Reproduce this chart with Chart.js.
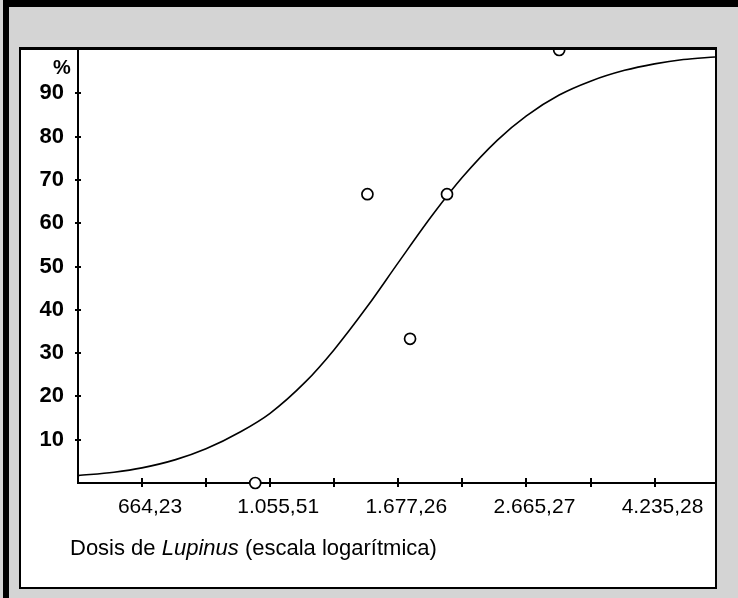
<!DOCTYPE html>
<html>
<head>
<meta charset="utf-8">
<script src="https://cdn.jsdelivr.net/npm/chart.js@4.4.1/dist/chart.umd.min.js"></script>
<style>
  html, body { margin: 0; padding: 0; }
  body { width: 738px; height: 598px; background: #d4d4d4; position: relative; overflow: hidden; font-family: "Liberation Sans", Arial, sans-serif; }
  #frame { position: absolute; left: 3px; top: 0; width: 735px; height: 598px; border-left: 6px solid #000; border-top: 7px solid #000; box-sizing: border-box; }
  #panel { position: absolute; left: 19px; top: 47px; width: 694px; height: 537px; border: 2px solid #000; border-top-width: 3px; background: #fff; }
  #chartBox { position: absolute; left: 0; top: 0; width: 694px; height: 536px; }
  #pct { position: absolute; left: 32px; top: 6px; font-weight: bold; font-size: 20px; color: #000; }
  #caption { position: absolute; left: 49px; top: 487px; font-size: 22px; line-height: 22px; color: #000; white-space: nowrap; }
</style>
</head>
<body>
<div id="frame"></div>
<div id="panel">
  <div id="chartBox"><canvas id="doseChart" width="694" height="536"></canvas></div>
  <div id="pct">%</div>
  <div id="caption">Dosis de <i>Lupinus</i> (escala logarítmica)</div>
</div>
<script>
// observed responses
const obsDose = [1000, 1500, 1750, 2000, 3000];
const obsPct = [0, 66.7, 33.3, 66.7, 100];

// fitted curve
const curveDose = [527, 600, 664, 750, 837, 950, 1055, 1200, 1330, 1500, 1677, 1900, 2114, 2400, 2665, 3000, 3360, 3800, 4235, 4700, 5269];
const curvePct = [1.7, 2.5, 3.5, 5.4, 7.9, 11.9, 16.1, 23.4, 30.8, 40.8, 50.9, 62.0, 70.6, 79.2, 84.8, 89.6, 92.8, 95.3, 96.8, 97.8, 98.4];

// axes
const xMin = 526.93;
const xMax = 5269.3;
const xTickValues = [664.23, 837.31, 1055.51, 1330.56, 1677.26, 2114.32, 2665.27, 3359.8, 4235.28];
const xTickLabels = ['664,23', '', '1.055,51', '', '1.677,26', '', '2.665,27', '', '4.235,28'];
const yTickValues = [10, 20, 30, 40, 50, 60, 70, 80, 90];

// tick marks that cross the axis line
const crossTicks = {
  id: 'crossTicks',
  beforeDatasetsDraw(chart) {
    const c = chart.ctx;
    const xs = chart.scales.x, ys = chart.scales.y;
    c.save();
    c.strokeStyle = '#000';
    c.lineWidth = 2;
    c.beginPath();
    xTickValues.forEach(v => {
      const px = Math.round(xs.getPixelForValue(v));
      c.moveTo(px, ys.bottom - 5);
      c.lineTo(px, ys.bottom + 4);
    });
    yTickValues.forEach(v => {
      const py = Math.round(ys.getPixelForValue(v));
      c.moveTo(xs.left - 3, py);
      c.lineTo(xs.left + 3, py);
    });
    c.stroke();
    c.restore();
  }
};

const ctx = document.getElementById('doseChart').getContext('2d');
new Chart(ctx, {
  type: 'scatter',
  data: {
    datasets: [
      {
        label: 'Observado',
        data: obsDose.map((d, i) => ({ x: d, y: obsPct[i] })),
        pointRadius: 5.5,
        pointBorderWidth: 1.7,
        pointBorderColor: '#000',
        pointBackgroundColor: '#fff',
        showLine: false,
        clip: false
      },
      {
        label: 'Curva',
        data: curveDose.map((d, i) => ({ x: d, y: curvePct[i] })),
        showLine: true,
        borderColor: '#000',
        borderWidth: 1.6,
        pointRadius: 0,
        cubicInterpolationMode: 'monotone',
        fill: false
      }
    ]
  },
  options: {
    responsive: false,
    animation: false,
    layout: { padding: 0, autoPadding: false },
    plugins: { legend: { display: false }, tooltip: { enabled: false } },
    scales: {
      x: {
        type: 'logarithmic',
        min: xMin,
        max: xMax,
        afterBuildTicks: s => { s.ticks = xTickValues.map(v => ({ value: v })); },
        afterFit: s => { s.height = 103; s.paddingLeft = 0; s.paddingRight = 0; },
        grid: { display: false, drawTicks: false },
        border: { color: '#000', width: 2 },
        ticks: {
          autoSkip: false,
          maxRotation: 0,
          padding: 12,
          labelOffset: 8,
          color: '#000',
          font: { family: 'Liberation Sans', size: 21 },
          callback: (v, i) => xTickLabels[i]
        }
      },
      y: {
        min: 0,
        max: 100,
        afterBuildTicks: s => { s.ticks = yTickValues.map(v => ({ value: v })); },
        afterFit: s => { s.width = 57; s.paddingTop = 0; s.paddingBottom = 0; },
        grid: { display: false, drawTicks: false },
        border: { color: '#000', width: 2 },
        ticks: {
          padding: 14,
          color: '#000',
          font: { family: 'Liberation Sans', size: 22, weight: 'bold' }
        }
      }
    }
  },
  plugins: [crossTicks]
});
</script>
</body>
</html>
